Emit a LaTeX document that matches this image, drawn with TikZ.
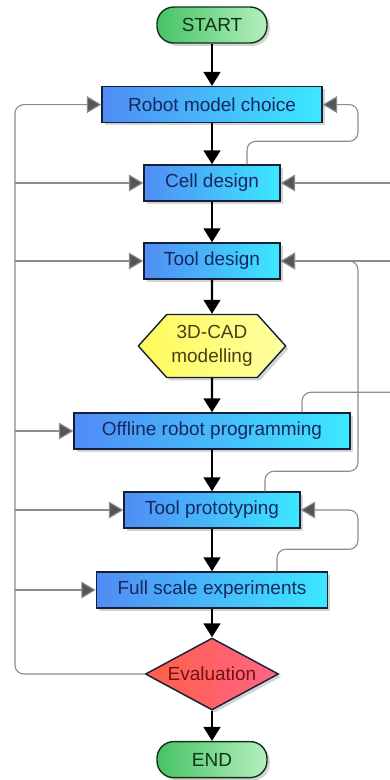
\documentclass[tikz,border=0pt]{standalone}
\usepackage{fontspec}
\setmainfont{Liberation Sans}
\usetikzlibrary{positioning,arrows.meta,calc,shadows,shapes.geometric,shapes.symbols}

\definecolor{boxblue}{RGB}{80,140,245}
\definecolor{boxcyan}{RGB}{60,232,255}
\definecolor{boxtext}{RGB}{22,40,95}
\definecolor{boxline}{RGB}{20,32,55}
\definecolor{termdark}{RGB}{70,195,100}
\definecolor{termlight}{RGB}{180,240,190}
\definecolor{termline}{RGB}{20,50,25}
\definecolor{cadleft}{RGB}{255,250,90}
\definecolor{cadright}{RGB}{255,255,160}
\definecolor{cadtext}{RGB}{70,65,20}
\definecolor{evalleft}{RGB}{255,95,70}
\definecolor{evalright}{RGB}{255,100,135}
\definecolor{evaltext}{RGB}{110,20,20}
\definecolor{fbline}{RGB}{140,140,140}
\definecolor{fbtip}{RGB}{85,85,85}

\begin{document}
\begin{tikzpicture}[
    font=\fontsize{13.5}{17}\selectfont,
    on grid,
    dropsh/.style={drop shadow={shadow xshift=0.07cm, shadow yshift=-0.07cm, opacity=0.35}},
    stepbox/.style={draw=boxline, line width=1pt, minimum height=0.9cm, align=center,
                    left color=boxblue, right color=boxcyan, text=boxtext, dropsh},
    term/.style={draw=termline, line width=1pt, rounded corners=0.42cm, minimum width=2.75cm,
                 minimum height=0.9cm, left color=termdark, right color=termlight,
                 text=termline, dropsh},
    cadbox/.style={signal, signal to=east and west, signal pointer angle=96, draw=boxline,
                   line width=1pt, minimum width=3.5cm, minimum height=1.575cm, align=center,
                   left color=cadleft, right color=cadright, text=cadtext, dropsh},
    decide/.style={diamond, aspect=1.85, draw=boxline, line width=1pt, inner sep=0pt,
                   minimum width=3.33cm, minimum height=1.8cm, left color=evalleft,
                   right color=evalright, text=evaltext, dropsh},
    arr/.style={-{Triangle[length=0.35cm, width=0.42cm]}, line width=1.5pt},
    fb/.style={-{Triangle[length=0.36cm, width=0.42cm, fill=fbtip]}, draw=fbline,
               line width=0.8pt, rounded corners=0.22cm},
  ]
    \useasboundingbox (0,0) rectangle (9.75,-19.5);

    % Main chain (centre to centre)
    \node[term] (start) at (5.3,-0.625) {START};
    \node[stepbox, minimum width=5.5cm,  below=1.99cm of start]   (robot)   {Robot model choice};
    \node[stepbox, minimum width=3.4cm,  below=1.96cm of robot]   (cell)    {Cell design};
    \node[stepbox, minimum width=3.4cm,  below=1.95cm of cell]    (tool)    {Tool design};
    \node[cadbox,                        below=2.125cm of tool]   (cad)     {3D-CAD\\modelling};
    \node[stepbox, minimum width=6.9cm,  below=2.125cm of cad]    (offline) {Offline robot programming};
    \node[stepbox, minimum width=4.4cm,  below=1.975cm of offline] (proto)  {Tool prototyping};
    \node[stepbox, minimum width=5.78cm, below=2cm of proto]      (full)    {Full scale experiments};
    \node[decide,                        below=2.1cm of full]     (eval)    {Evaluation};
    \node[term,                          below=2.14cm of eval]    (finish)  {END};

    % Feedback columns
    \coordinate (lft)  at (0.375,0);
    \coordinate (rgt)  at (8.95,0);
    \coordinate (edge) at (9.75,0);

    % Left loop from evaluation
    \draw[fb] (eval.west) -| (lft |- robot) -- (robot.west);
    \draw[fb] (lft |- cell)    -- (cell.west);
    \draw[fb] (lft |- tool)    -- (tool.west);
    \draw[fb] (lft |- offline) -- (offline.west);
    \draw[fb] (lft |- proto)   -- (proto.west);
    \draw[fb] (lft |- full)    -- (full.west);

    % Right loops
    \draw[fb] ([xshift=0.875cm]cell.north) -- ++(0,0.575) -| (rgt |- robot) -- (robot.east);
    \draw[fb] (edge |- cell) -- (cell.east);
    \draw[fb] (edge |- tool) -- (tool.east);
    \draw[fb] ([xshift=1.325cm]proto.north) -- ++(0,0.5) -| (rgt |- tool) -- (tool.east);
    \draw[fb, -] ([xshift=2.25cm]offline.north) |- ($(offline.north -| edge)+(0,0.5)$);
    \draw[fb] ([xshift=1.625cm]full.north) -- ++(0,0.55) -| (rgt |- proto) -- (proto.east);

    % Arrows
    \draw[arr] (start)   -- (robot);
    \draw[arr] (robot)   -- (cell);
    \draw[arr] (cell)    -- (tool);
    \draw[arr] (tool)    -- (cad);
    \draw[arr] (cad)     -- (offline);
    \draw[arr] (offline) -- (proto);
    \draw[arr] (proto)   -- (full);
    \draw[arr] (full)    -- (eval);
    \draw[arr] (eval)    -- (finish);
  \end{tikzpicture}
\end{document}
